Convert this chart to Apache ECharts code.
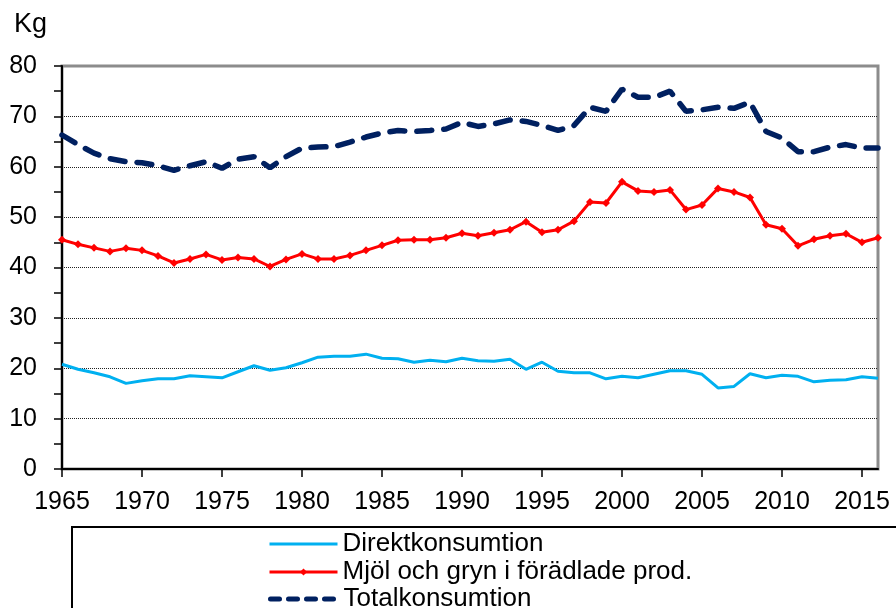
<!DOCTYPE html>
<html>
<head>
<meta charset="utf-8">
<script src="https://cdn.jsdelivr.net/npm/echarts@6/dist/echarts.min.js"></script>
<style>
html,body{margin:0;padding:0;background:#fff;}
#c{width:896px;height:608px;}
</style>
</head>
<body>
<div id="c"></div>
<script>
const years = [1965,1966,1967,1968,1969,1970,1971,1972,1973,1974,1975,1976,1977,1978,1979,1980,1981,1982,1983,1984,1985,1986,1987,1988,1989,1990,1991,1992,1993,1994,1995,1996,1997,1998,1999,2000,2001,2002,2003,2004,2005,2006,2007,2008,2009,2010,2011,2012,2013,2014,2015,2016];
const direkt = [20.8,19.8,19.1,18.3,17.0,17.5,17.9,17.9,18.5,18.3,18.1,19.3,20.5,19.6,20.1,21.1,22.2,22.4,22.4,22.8,22.0,21.9,21.2,21.6,21.3,22.0,21.5,21.4,21.8,19.8,21.2,19.4,19.1,19.1,17.9,18.4,18.1,18.8,19.5,19.5,18.8,16.1,16.4,18.9,18.1,18.6,18.4,17.3,17.6,17.7,18.3,18.0];
const mjol = [45.5,44.6,43.9,43.2,43.8,43.4,42.3,40.9,41.7,42.6,41.5,42.0,41.7,40.2,41.6,42.7,41.7,41.7,42.4,43.4,44.4,45.4,45.5,45.5,45.9,46.8,46.3,46.9,47.5,49.1,47.0,47.5,49.2,53.0,52.8,57.0,55.2,55.0,55.4,51.5,52.4,55.7,55.0,53.9,48.5,47.7,44.3,45.6,46.3,46.7,45.0,45.9];
const total = [66.3,64.4,62.7,61.6,61.0,60.8,60.2,59.3,60.2,61.0,59.7,61.5,62.0,59.8,62.0,63.7,63.9,64.0,64.9,65.9,66.7,67.2,67.0,67.2,67.5,68.8,68.0,68.5,69.3,69.0,68.2,67.2,68.2,71.8,71.0,75.4,73.8,73.8,75.0,71.0,71.3,71.8,71.6,72.8,67.0,65.7,63.0,63.0,63.9,64.4,63.7,63.7];
const xTicks = [1965,1970,1975,1980,1985,1990,1995,2000,2005,2010,2015];
const seriesNames = ['Direktkonsumtion','Mjöl och gryn i förädlade prod.','Totalkonsumtion'];
const unitLabel = 'Kg';

const FONT = 'Liberation Sans, Arial, sans-serif';
const pair = arr => years.map((y,i)=>[y,arr[i]]);

const legendTops = [526, 554, 581];
function mkLegend(i, extra){
  return Object.assign({
    orient:'vertical',left:263,top:legendTops[i],itemWidth:68,itemHeight:14,
    textStyle:{fontSize:26,color:'#000',fontFamily:FONT},
    data:[seriesNames[i]]
  }, extra);
}

const chart = echarts.init(document.getElementById('c'), null, {renderer:'canvas'});
chart.setOption({
  animation:false,
  backgroundColor:'#fff',
  textStyle:{fontFamily:FONT},
  grid:{left:62,right:18,top:66,bottom:139,show:true,borderColor:'#8c8c8c',borderWidth:3,backgroundColor:'transparent'},
  graphic:[
    {type:'text',left:14,top:11,style:{text:unitLabel,fontSize:27,fontFamily:FONT,fill:'#000'}},
    {type:'rect',shape:{x:72,y:527,width:900,height:200},style:{fill:'none',stroke:'#000',lineWidth:2},z:-1}
  ],
  legend:[
    mkLegend(0,{itemStyle:{opacity:0},lineStyle:{width:3,color:'#00B0F0'}}),
    mkLegend(1,{itemHeight:9,lineStyle:{width:3,color:'#FF0000'}}),
    mkLegend(2,{itemStyle:{opacity:0},lineStyle:{width:5,color:'#002060',type:[9,9],cap:'round'}})
  ],
  xAxis:{
    type:'value',min:1965,max:2016,interval:5,
    axisLine:{show:true,onZero:false,lineStyle:{color:'#000',width:2}},
    axisTick:{show:true,length:8,lineStyle:{color:'#000',width:1.5},customValues:xTicks},
    axisLabel:{fontSize:25,color:'#000',margin:21,fontFamily:FONT,customValues:xTicks,formatter:v=>String(v)},
    splitLine:{show:false}
  },
  yAxis:{
    type:'value',min:0,max:80,interval:10,
    axisLine:{show:true,lineStyle:{color:'#000',width:2}},
    axisTick:{show:true,length:8,lineStyle:{color:'#000',width:1.5}},
    minorTick:{show:true,splitNumber:2,length:8,lineStyle:{color:'#000',width:1.5}},
    axisLabel:{fontSize:25,color:'#000',margin:25,fontFamily:FONT},
    splitLine:{show:true,showMinLine:false,showMaxLine:false,lineStyle:{color:'#222',type:'dotted',width:1}}
  },
  series:[
    {name:seriesNames[0],type:'line',data:pair(direkt),symbol:'none',
     lineStyle:{color:'#00B0F0',width:3},itemStyle:{color:'#00B0F0'},z:3},
    {name:seriesNames[1],type:'line',data:pair(mjol),symbol:'diamond',symbolSize:8,showSymbol:true,
     lineStyle:{color:'#FF0000',width:3},itemStyle:{color:'#FF0000'},z:4},
    {name:seriesNames[2],type:'line',data:pair(total),symbol:'none',
     lineStyle:{color:'#002060',width:5.5,type:[15,12],cap:'round'},itemStyle:{color:'#002060'},z:5}
  ]
});
</script>
</body>
</html>
